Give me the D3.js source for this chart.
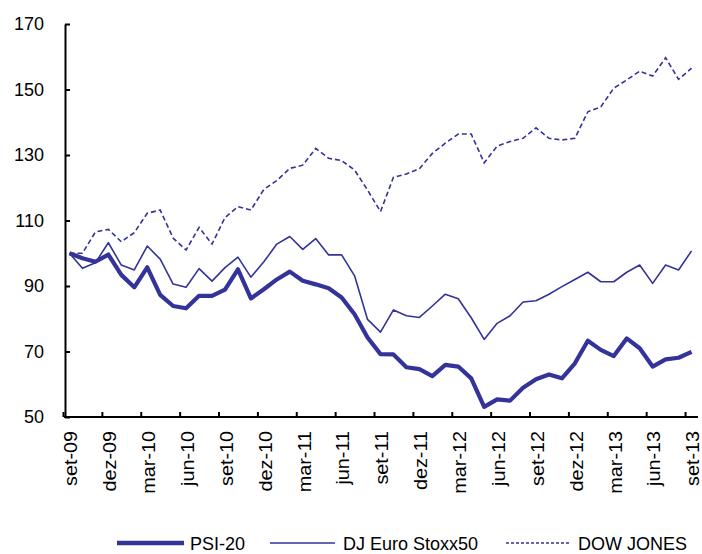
<!DOCTYPE html>
<html><head><meta charset="utf-8">
<script src="https://cdn.jsdelivr.net/npm/d3@7"></script>
<style>body{margin:0;background:#fff} text{font-family:Arial,"Liberation Sans",sans-serif;fill:#000}</style>
</head><body><svg id="c" width="702" height="554"></svg>
<script>
const months = ["set-09","out-09","nov-09","dez-09","jan-10","fev-10","mar-10","abr-10","mai-10","jun-10","jul-10","ago-10",
"set-10","out-10","nov-10","dez-10","jan-11","fev-11","mar-11","abr-11","mai-11","jun-11","jul-11","ago-11",
"set-11","out-11","nov-11","dez-11","jan-12","fev-12","mar-12","abr-12","mai-12","jun-12","jul-12","ago-12",
"set-12","out-12","nov-12","dez-12","jan-13","fev-13","mar-13","abr-13","mai-13","jun-13","jul-13","ago-13","set-13"];
const psi = [100, 98.5, 97.4, 99.6, 93.4, 89.6, 95.7, 87.3, 83.9, 83.2, 87.0, 87.0,
 88.9, 95.1, 86.2, 89.0, 92.0, 94.4, 91.6, 90.5, 89.3, 86.5, 81.4, 74.3,
 69.2, 69.1, 65.2, 64.6, 62.5, 65.9, 65.4, 61.8, 53.1, 55.4, 55.0, 58.9,
 61.5, 63.0, 61.8, 66.4, 73.3, 70.5, 68.6, 74.0, 71.0, 65.4, 67.6, 68.1, 69.9];
const stoxx = [100, 95.4, 97.1, 103.2, 96.4, 94.9, 102.2, 98.2, 90.6, 89.6, 95.3, 91.5,
 95.6, 98.8, 92.7, 97.4, 102.8, 105.1, 101.2, 104.5, 99.5, 99.5, 93.1, 79.8,
 75.9, 82.7, 80.9, 80.4, 83.9, 87.5, 86.1, 80.3, 73.7, 78.6, 80.9, 85.1,
 85.5, 87.5, 89.8, 92.0, 94.2, 91.3, 91.3, 94.2, 96.4, 90.8, 96.4, 94.9, 100.7];
const dow = [100, 100, 106.5, 107.3, 103.5, 106.3, 112.2, 113.2, 104.6, 101.0, 107.9, 102.8,
 110.9, 114.2, 113.2, 119.5, 122.2, 125.9, 126.9, 132.0, 129.0, 128.3, 125.4, 119.3,
 112.7, 123.2, 124.2, 125.8, 130.5, 133.6, 136.4, 136.4, 127.6, 132.7, 134.1, 135.1,
 138.3, 135.1, 134.6, 135.1, 143.2, 144.7, 150.4, 152.9, 155.6, 154.1, 159.7, 153.1, 156.5];
const yTicks = [50, 70, 90, 110, 130, 150, 170];
const seriesNames = ["PSI-20", "DJ Euro Stoxx50", "DOW JONES"];

const color = "#333399";
const svg = d3.select("#c");
const x = d3.scaleBand().domain(d3.range(months.length)).range([63, 698]);
const xb = d3.scaleLinear().domain([0, months.length]).range([63, 698]);
const y = d3.scaleLinear().domain([50, 170]).range([417, 24]);
const cx = i => x(i) + x.bandwidth() / 2;

// Y axis
const ya = svg.append("g").attr("transform", "translate(65,0)")
  .call(d3.axisLeft(y).tickValues(yTicks).tickSizeInner(-5).tickSizeOuter(0).tickPadding(21).tickFormat(d3.format("d")));
ya.select(".domain").attr("stroke", "#000").attr("stroke-width", 2);
ya.selectAll(".tick line").attr("stroke", "#000").attr("stroke-width", 2);
ya.selectAll(".tick text").attr("font-size", 18).attr("font-family", "Arial, 'Liberation Sans', sans-serif");

// X axis ticks at category boundaries
const xa = svg.append("g").attr("transform", "translate(0,417)")
  .call(d3.axisBottom(xb).tickValues(d3.range(0, months.length, 3)).tickSizeInner(-5).tickSizeOuter(0).tickFormat(""));
xa.select(".domain").attr("stroke", "#000").attr("stroke-width", 2).attr("d", "M64,0H698");
xa.selectAll(".tick line").attr("stroke", "#000").attr("stroke-width", 2);

// X labels
svg.append("g").selectAll("text")
  .data(months.map((m, i) => ({m, i})).filter(d => d.i % 3 === 0))
  .join("text")
  .attr("transform", d => `translate(${cx(d.i) + 1.5},431) rotate(-90) scale(1.1,1)`)
  .attr("text-anchor", "end")
  .attr("dy", "0.35em")
  .attr("font-size", 18)
  .text(d => d.m);

// Lines
const line = d3.line().x((d, i) => cx(i)).y(d => y(d));
svg.append("path").datum(dow).attr("d", line).attr("fill", "none").attr("stroke", color)
  .attr("stroke-width", 1.6).attr("stroke-dasharray", "5,3");
svg.append("path").datum(stoxx).attr("d", line).attr("fill", "none").attr("stroke", color)
  .attr("stroke-width", 1.6).attr("stroke-linejoin", "round");
svg.append("path").datum(psi).attr("d", line).attr("fill", "none").attr("stroke", color)
  .attr("stroke-width", 4.2).attr("stroke-linejoin", "round");

// Legend
const legend = [
  {name: seriesNames[0], x1: 117, x2: 184, tx: 190, w: 4.5, dash: null},
  {name: seriesNames[1], x1: 270, x2: 335, tx: 343, w: 1.6, dash: null},
  {name: seriesNames[2], x1: 506, x2: 570, tx: 578, w: 1.6, dash: "3,2"}
];
const lg = svg.append("g");
legend.forEach(d => {
  lg.append("line").attr("x1", d.x1).attr("x2", d.x2).attr("y1", 543).attr("y2", 543)
    .attr("stroke", color).attr("stroke-width", d.w).attr("stroke-dasharray", d.dash);
  lg.append("text").attr("x", d.tx).attr("y", 550).attr("font-size", 18).text(d.name);
});
</script></body></html>
